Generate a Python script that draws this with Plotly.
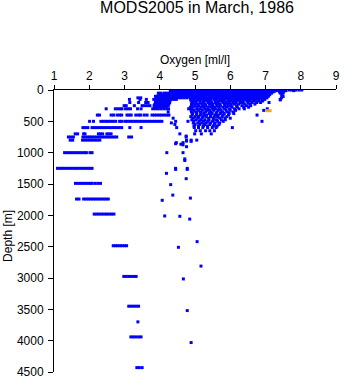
import plotly.graph_objects as go

# Oxygen [ml/l] observed at standard depth levels (one list per depth in m)
o_0000 = [4.31, 4.38, 4.46, 4.55, 4.63, 4.70, 4.78, 4.87, 4.95, 5.02, 5.11, 5.19, 5.27, 5.36, 5.43, 5.51,
          5.60, 5.68, 5.75, 5.84, 5.92, 5.99, 6.08, 6.16, 6.23, 6.31, 6.40, 6.48, 6.55, 6.64, 6.72, 6.79,
          6.88, 6.96, 7.03, 7.11, 7.20, 7.27, 7.36, 7.47, 7.56, 7.67, 7.74, 7.86, 7.95, 8.03]
o_0010 = [4.33, 4.41, 4.50, 4.58, 4.65, 4.74, 4.82, 4.90, 4.97, 5.06, 5.14, 5.22, 5.31, 5.39, 5.46, 5.55,
          5.63, 5.71, 5.79, 5.87, 5.95, 6.04, 6.12, 6.19, 6.27, 6.36, 6.44, 6.52, 6.59, 6.68, 6.76, 6.83,
          6.92, 7.00, 7.07, 7.16, 7.24, 7.31, 7.42, 7.58, 7.80]
o_0020 = [4.30, 4.37, 4.45, 4.54, 4.61, 4.69, 4.78, 4.85, 4.93, 5.02, 5.09, 5.17, 5.26, 5.33, 5.41, 5.50,
          5.57, 5.65, 5.74, 5.81, 5.89, 5.98, 6.05, 6.13, 6.22, 6.29, 6.37, 6.46, 6.53, 6.61, 6.70, 6.77,
          6.85, 6.94, 7.01, 7.09, 7.18, 7.25, 7.44, 7.52]
o_0030 = [4.32, 4.40, 4.49, 4.56, 4.64, 4.72, 4.81, 4.89, 4.96, 5.05, 5.13, 5.21, 5.28, 5.37, 5.45, 5.53,
          5.61, 5.70, 5.77, 5.85, 5.94, 6.01, 6.10, 6.17, 6.26, 6.34, 6.41, 6.50, 6.58, 6.66, 6.74, 6.82,
          6.90, 6.98, 7.06, 7.14, 7.22, 7.40, 7.49]
o_0050 = [3.96, 4.03, 4.12, 4.19, 4.27, 4.35, 4.43, 4.51, 4.60, 4.67, 4.75, 4.84, 4.92, 4.99, 5.08, 5.16,
          5.24, 5.32, 5.40, 5.48, 5.56, 5.64, 5.72, 5.80, 5.88, 5.96, 6.04, 6.12, 6.20, 6.28, 6.36, 6.44,
          6.52, 6.60, 6.68, 6.76, 6.84, 6.92, 7.00, 7.08, 7.17, 7.42, 7.50]
o_0075 = [3.98, 4.05, 4.13, 4.22, 4.29, 4.38, 4.46, 4.54, 4.62, 4.70, 4.78, 4.86, 4.94, 5.03, 5.11, 5.19,
          5.27, 5.35, 5.43, 5.52, 5.59, 5.67, 5.75, 5.83, 5.91, 5.99, 6.07, 6.15, 6.23, 6.32, 6.39, 6.47,
          6.55, 6.63, 6.71, 6.80, 6.88, 6.96, 7.04, 7.12, 7.46]
o_0100 = [3.88, 3.95, 4.03, 4.11, 4.19, 4.27, 4.35, 4.43, 4.51, 4.59, 4.67, 4.75, 4.83, 4.91, 4.99, 5.07,
          5.16, 5.24, 5.31, 5.40, 5.48, 5.56, 5.64, 5.72, 5.80, 5.88, 5.96, 6.04, 6.12, 6.20, 6.28, 6.36,
          6.44, 6.52, 6.60, 6.68, 6.76, 6.84, 6.92, 7.00, 7.08, 7.48]
o_0125 = [3.38, 3.46, 3.90, 3.97, 4.05, 4.13, 4.21, 4.29, 4.37, 4.45, 4.53, 4.61, 4.69, 4.77, 4.86, 4.94,
          5.02, 5.10, 5.19, 5.27, 5.35, 5.43, 5.51, 5.60, 5.68, 5.76, 5.84, 5.92, 6.00, 6.08, 6.16, 6.24,
          6.32, 6.40, 6.48, 6.56, 6.64, 6.72, 6.80, 6.88, 6.96, 7.04, 7.45]
o_0150 = [3.14, 3.44, 3.62, 3.83, 3.91, 3.99, 4.07, 4.15, 4.23, 4.31, 4.39, 4.47, 4.88, 4.96, 5.05, 5.13,
          5.21, 5.30, 5.38, 5.46, 5.55, 5.62, 5.71, 5.78, 5.86, 5.94, 6.02, 6.10, 6.18, 6.26, 6.34, 6.42,
          6.50, 6.58, 6.66, 6.74, 6.82, 6.90, 6.98, 7.42]
o_0175 = [3.89, 3.97, 4.06, 4.14, 4.22, 4.29, 4.89, 4.97, 5.05, 5.14, 5.26, 5.34, 5.42, 5.57, 5.65, 5.73,
          5.81, 5.95, 6.03, 6.11, 6.19, 6.27, 6.35, 6.47, 6.55, 6.68, 6.80, 6.92]
o_0200 = [3.15, 3.40, 3.60, 3.67, 3.88, 3.96, 4.04, 4.12, 4.20, 4.28, 4.93, 5.02, 5.15, 5.24, 5.38, 5.47,
          5.58, 5.66, 5.79, 5.88, 5.97, 6.08, 6.16, 6.29, 6.37, 6.50, 6.62, 6.75, 6.86, 7.10]
o_0225 = [3.86, 3.94, 4.02, 4.10, 4.18, 4.26, 4.90, 4.98, 5.07, 5.19, 5.29, 5.41, 5.50, 5.61, 5.70, 5.83,
          5.91, 6.02, 6.12, 6.24, 6.40, 6.55, 6.70]
o_0250 = [2.99, 3.05, 3.28, 3.50, 3.57, 3.65, 3.72, 3.84, 3.92, 4.00, 4.08, 4.16, 4.24, 4.90, 5.00, 5.10,
          5.22, 5.31, 5.43, 5.51, 5.63, 5.72, 5.85, 5.95, 6.03, 6.18, 6.33, 6.46, 6.58]
o_0275 = [3.85, 3.93, 4.01, 4.09, 4.17, 4.87, 4.95, 5.06, 5.18, 5.26, 5.38, 5.47, 5.56, 5.67, 5.79, 5.90,
          6.05, 6.20, 6.38, 6.52]
o_0300 = [2.48, 2.74, 2.81, 2.88, 2.93, 3.03, 3.10, 3.17, 3.37, 3.47, 3.80, 3.88, 3.96, 4.04, 4.12, 4.20,
          4.25, 4.82, 4.90, 5.05, 5.14, 5.28, 5.36, 5.50, 5.58, 5.70, 5.84, 5.98, 6.12, 6.25, 6.40, 7.05]
o_0325 = [4.89, 4.97, 5.09, 5.21, 5.33, 5.41, 5.53, 5.66, 5.74, 5.88, 6.00, 6.15, 6.95]
o_0350 = [4.24, 4.90, 5.02, 5.15, 5.30, 5.45, 5.62, 5.78, 5.92, 6.08]
o_0375 = [4.93, 5.05, 5.17, 5.25, 5.40, 5.49, 5.60, 5.72, 5.83, 5.97, 6.10]
o_0400 = [2.23, 2.29, 2.62, 2.69, 2.79, 2.86, 2.92, 3.07, 3.13, 3.19, 3.32, 3.40, 3.46, 3.56, 3.64, 3.78,
          3.85, 3.92, 3.99, 4.06, 4.13, 4.20, 4.26, 4.92, 5.04, 5.15, 5.26, 5.33, 5.45, 5.58, 5.66, 5.80,
          5.95, 6.76]
o_0425 = [4.88, 5.00, 5.10, 5.22, 5.31, 5.44, 5.55, 5.64, 5.77, 5.90]
o_0450 = [4.38, 4.95, 5.08, 5.20, 5.38, 5.52, 5.70, 5.85, 6.00]
o_0475 = [4.91, 5.03, 5.16, 5.28, 5.40, 5.52, 5.61, 5.75, 5.86]
o_0500 = [2.01, 2.12, 2.33, 2.40, 2.47, 2.54, 2.61, 2.68, 2.75, 2.86, 2.92, 3.01, 3.08, 3.15, 3.22, 3.29,
          3.36, 3.43, 3.50, 3.57, 3.64, 3.71, 3.78, 3.85, 3.92, 3.99, 4.06, 4.45, 4.80, 4.97, 5.12, 5.24,
          5.36, 5.50, 5.64, 5.80, 6.90]
o_0525 = [4.33, 4.95, 5.08, 5.19, 5.32, 5.44, 5.57, 5.70]
o_0550 = [4.43, 5.00, 5.14, 5.27, 5.42, 5.55, 5.68]
o_0575 = [4.97, 5.10, 5.24, 5.35, 5.52, 5.63]
o_0600 = [1.82, 1.89, 1.96, 2.08, 2.15, 2.22, 2.29, 2.36, 2.43, 2.50, 2.57, 2.64, 2.71, 2.78, 2.85, 2.92,
          3.15, 3.47, 4.48, 4.98, 5.10, 5.22, 5.36, 5.49, 5.60, 6.06]
o_0650 = [5.02, 5.15, 5.30, 5.42, 5.55]
o_0700 = [1.60, 1.67, 1.84, 1.88, 2.26, 2.32, 2.38, 2.50, 2.56, 2.62, 4.57, 4.99, 5.18, 5.46]
o_0750 = [1.41, 1.48, 1.55, 1.82, 1.89, 1.96, 2.02, 2.08, 2.15, 2.22, 2.29, 2.36, 2.43, 2.50, 2.57, 2.64,
          2.71, 2.78, 3.12, 3.20, 4.75]
o_0800 = [1.46, 1.53, 1.81, 1.88, 1.95, 2.02, 2.09, 2.16, 2.23, 2.30, 4.76, 4.89, 5.05]
o_1000 = [1.30, 1.37, 1.44, 1.51, 1.58, 1.65, 1.72, 1.79, 1.86, 1.92, 2.02, 2.08, 4.20, 4.66]
o_1250 = [1.10, 1.17, 1.24, 1.31, 1.38, 1.45, 1.52, 1.59, 1.66, 1.73, 1.80, 1.87, 1.94, 2.01, 2.08,
          4.45, 4.78]
o_1490 = [1.61, 1.68, 1.75, 1.82, 1.89, 1.96, 2.03, 2.08, 2.16, 2.24, 2.32]
o_1740 = [1.64, 1.71, 1.84, 1.91, 1.98, 2.05, 2.12, 2.19, 2.26, 2.33, 2.40, 2.47, 2.54]
o_1980 = [2.14, 2.21, 2.28, 2.35, 2.42, 2.49, 2.56, 2.63, 2.70]
o_2485 = [2.68, 2.74, 2.80, 2.87, 2.93, 3.00, 3.06]
o_2975 = [2.98, 3.05, 3.12, 3.19, 3.26, 3.33]
o_3450 = [3.12, 3.19, 3.26, 3.33, 3.40]
o_3940 = [3.18, 3.25, 3.32, 3.40, 3.47]
o_4430 = [3.35, 3.42, 3.50]

levels = {
    0: o_0000, 10: o_0010, 20: o_0020, 30: o_0030, 50: o_0050, 75: o_0075, 100: o_0100,
    125: o_0125, 150: o_0150, 175: o_0175, 200: o_0200, 225: o_0225, 250: o_0250, 275: o_0275,
    300: o_0300, 325: o_0325, 350: o_0350, 375: o_0375, 400: o_0400, 425: o_0425, 450: o_0450,
    475: o_0475, 500: o_0500, 525: o_0525, 550: o_0550, 575: o_0575, 600: o_0600, 650: o_0650,
    700: o_0700, 750: o_0750, 800: o_0800, 1000: o_1000, 1250: o_1250, 1490: o_1490,
    1740: o_1740, 1980: o_1980, 2485: o_2485, 2975: o_2975, 3450: o_3450, 3940: o_3940,
    4430: o_4430,
}

# Single samples at non-standard depths
scatter_oxy = [4.75, 4.47, 4.66, 4.89, 4.45, 4.60, 4.66, 4.76, 4.76, 4.71, 4.71, 4.19, 4.45, 4.78,
               4.75, 4.31, 4.37, 4.07, 4.87, 4.14, 4.57, 4.85, 5.06, 4.53, 5.17, 4.67, 4.78, 4.89,
               3.38, 7.50, 7.42]
scatter_dep = [735, 840, 840, 820, 857, 865, 875, 905, 815, 1100, 1125, 1330, 1267, 1267,
               1415, 1510, 1677, 1760, 1725, 2010, 2015, 2060, 2420, 2510, 2810, 3015, 3520, 4030,
               3700, 105, 158]

# Highlighted cast
hi_oxy = [7.05, 7.13]
hi_dep = [330, 330]

oxy, dep = [], []
for d, vals in levels.items():
    oxy += vals
    dep += [d] * len(vals)
oxy += scatter_oxy
dep += scatter_dep

fig = go.Figure()
fig.add_trace(go.Scatter(x=oxy, y=dep, mode="markers",
                         marker=dict(symbol="square", size=3, color="#0000FF", line=dict(width=0))))
fig.add_trace(go.Scatter(x=hi_oxy, y=hi_dep, mode="markers",
                         marker=dict(symbol="square", size=3, color="#FFA500", line=dict(width=0))))

font_family = "Liberation Sans, Arial, sans-serif"
fig.update_layout(
    width=345, height=384,
    margin=dict(l=54, r=5, t=90, b=9),
    paper_bgcolor="white", plot_bgcolor="white",
    showlegend=False,
    font=dict(family=font_family, color="black", size=12),
    title=dict(text="MODS2005 in March, 1986", x=0.571, xref="container", xanchor="center",
               y=0.98, yref="container", yanchor="middle",
               font=dict(size=16, family=font_family, color="black")),
    xaxis=dict(range=[1, 9], side="top", tickvals=list(range(1, 10)), ticks="outside", ticklen=4,
               tickcolor="black", showline=True, linecolor="black", linewidth=1,
               showgrid=False, zeroline=False, tickfont=dict(size=12)),
    yaxis=dict(range=[4500, 0], tickvals=list(range(0, 4501, 500)), ticks="outside", ticklen=5,
               tickcolor="black", showline=True, linecolor="black", linewidth=1,
               showgrid=False, zeroline=False, tickfont=dict(size=12), ticklabelstandoff=2),
    annotations=[
        dict(text="Oxygen [ml/l]", xref="paper", yref="paper", x=0.5, y=1.105,
             xanchor="center", yanchor="middle", showarrow=False, font=dict(size=12)),
        dict(text="Depth [m]", xref="paper", yref="paper", x=-0.161, y=0.481, textangle=-90,
             xanchor="center", yanchor="middle", showarrow=False, font=dict(size=12)),
    ],
)

fig.write_html("out.html")
